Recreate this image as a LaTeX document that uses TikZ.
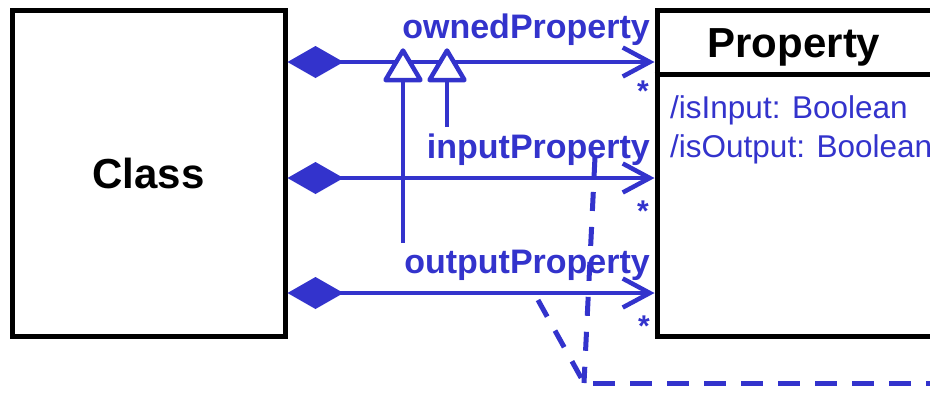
\documentclass[tikz,border=0pt]{standalone}
\usepackage{fontspec}
\setmainfont{Liberation Sans}
\usetikzlibrary{arrows.meta}
\definecolor{umlblue}{RGB}{51,51,204}
\begin{document}
\begin{tikzpicture}[x=1pt,y=-1pt,
  box/.style={draw=black, line width=5pt, fill=white, inner sep=0pt},
  title/.style={font=\fontsize{42}{48}\selectfont\bfseries, text=black},
  attr/.style={font=\fontsize{31.5}{38}\selectfont, text=umlblue, inner sep=0pt},
  role/.style={font=\fontsize{34}{40}\selectfont\bfseries, text=umlblue, inner sep=0pt},
  mult/.style={font=\fontsize{30}{36}\selectfont\bfseries, text=umlblue, inner sep=0pt},
  assoc/.style={draw=umlblue, line width=4.5pt,
    {Diamond[length=56pt,width=32pt,fill=umlblue]}-{Straight Barb[length=27pt,width=29pt]}},
  gen/.style={draw=umlblue, line width=4.5pt},
  tri/.style={draw=umlblue, fill=white, line width=4.5pt, line join=round},
  dep/.style={draw=umlblue, line width=5pt, dash pattern=on 19pt off 16pt},
  hdep/.style={draw=umlblue, line width=5pt, dash pattern=on 22pt off 15pt}]
\useasboundingbox (0,0) rectangle (930,392);
\begin{scope}
\clip (0,0) rectangle (930,392);
% boxes
\node[box, minimum width=273pt, minimum height=326pt, title] (class) at (148.5,173) {Class};
\node[box, minimum width=400pt, minimum height=326pt] (prop) at (857,173) {};
\draw[black, line width=5pt] (prop.west |- 0,74) -- (prop.east |- 0,74);
\node[title, anchor=base, inner sep=0pt] (proptitle) at (794,57) {Property};
\node[attr, anchor=base west] (attr1) at (670,118) {/isInput: Boolean};
\node[attr, anchor=base west] (attr2) at (670,157) {/isOutput: Boolean};
% associations
\draw[assoc] (class.east |- 0,62) -- (prop.west |- 0,62);
\draw[assoc] (class.east |- 0,178) -- (prop.west |- 0,178);
\draw[assoc] (class.east |- 0,293) -- (prop.west |- 0,293);
\node[role, anchor=base east] (lblowned) at (650,38) {ownedProperty};
\node[role, anchor=base east] (lblinput) at (650,158) {inputProperty};
\node[role, anchor=base east] (lbloutput) at (650,273) {outputProperty};
\node[mult, anchor=base] (m1) at (643,101) {*};
\node[mult, anchor=base] (m2) at (643,221) {*};
\node[mult, anchor=base] (m3) at (644,336) {*};
% generalizations (subsets)
\coordinate (g1s) at (403,243);
\coordinate (g1b) at (403,80);
\coordinate (g2s) at (447,127);
\coordinate (g2b) at (447,80);
\draw[gen] (g1s) -- (g1b);
\draw[gen] (g2s) -- (g2b);
\draw[tri] (g1b) ++(-17.5,0) -- ++(17.5,-29.5) -- ++(17.5,29.5) -- cycle;
\draw[tri] (g2b) ++(-17.5,0) -- ++(17.5,-29.5) -- ++(17.5,29.5) -- cycle;
% dashed dependencies
\coordinate (d1) at (595,157);
\coordinate (d2) at (538,300);
\coordinate (j) at (584,383);
\coordinate (h1) at (593,383);
\coordinate (h2) at (945,383);
\draw[dep] (d1) -- (j);
\draw[dep] (d2) -- (j);
\draw[hdep] (h1) -- (h2);
\end{scope}
\end{tikzpicture}
\end{document}
